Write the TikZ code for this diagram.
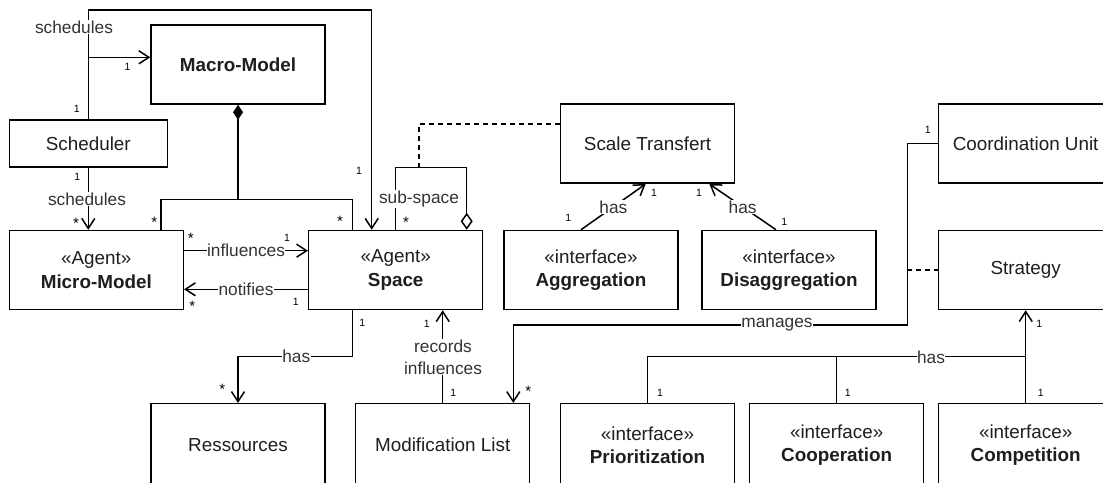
\documentclass[tikz,border=0pt]{standalone}
\usepackage{fontspec}
\setmainfont{Liberation Sans}
\usetikzlibrary{arrows.meta,calc}
\definecolor{txt}{HTML}{1E1E1E}
\definecolor{lbl}{HTML}{333333}
\begin{document}
\begin{tikzpicture}[x=1pt,y=-1pt,
  box/.style={draw=black,line width=1.5pt,minimum width=174pt,minimum height=79pt,inner sep=0pt,align=center,text=txt,font=\fontsize{18.85pt}{23.4pt}\selectfont},
  lowbox/.style={box,minimum height=83pt},
  lab/.style={fill=white,inner sep=0.5pt,text=lbl,font=\fontsize{17.3pt}{22pt}\selectfont,align=center},
  mult/.style={inner sep=0pt,text=black,font=\fontsize{10.5pt}{12pt}\selectfont},
  star/.style={inner sep=0pt,text=black,font=\fontsize{15pt}{16pt}\selectfont,yshift=-3pt},
  con/.style={line width=1.5pt,draw=black},
  arr/.style={con,-{Straight Barb[length=10pt,width=13pt]}},
  dsh/.style={con,dash pattern=on 5pt off 4pt}
]
\useasboundingbox (0,0) rectangle (1103,482);
\clip (0,0) rectangle (1103,482);
\fill[white] (0,0) rectangle (1103,482);

% boxes
\node[box] (macro) at (238,64.5) {\textbf{Macro-Model}};
\node[box,minimum width=158pt,minimum height=47pt] (sched) at (88.3,143.4) {Scheduler};
\node[box] (micro) at (96.3,270) {«Agent»\\\textbf{Micro-Model}};
\node[box] (space) at (395.7,270) {«Agent»\\\textbf{Space}};
\node[box] (scale) at (647.5,143.7) {Scale Transfert};
\node[box] (coord) at (1025.7,143.7) {Coordination Unit};
\node[box] (aggr) at (591,270) {«interface»\\\textbf{Aggregation}};
\node[box] (disagg) at (789,270) {«interface»\\\textbf{Disaggregation}};
\node[box] (strategy) at (1025.7,270) {Strategy};
\node[lowbox] (ress) at (238,445.2) {Ressources};
\node[lowbox] (modlist) at (442.7,445.2) {Modification List};
\node[lowbox] (prio) at (647.5,445.2) {«interface»\\\textbf{Prioritization}};
\node[lowbox] (coop) at (836.7,445.2) {«interface»\\\textbf{Cooperation}};
\node[lowbox] (comp) at (1025.7,445.2) {«interface»\\\textbf{Competition}};

% scheduler -> space (top route) and -> macro
\coordinate (t1) at (88.3,10);
\coordinate (t2) at (371.7,10);
\draw[arr] (sched.north) -- (t1) -- (t2) -- (t2 |- space.north);
\coordinate (j1) at (88.3,57.3);
\draw[arr] (j1) -- (j1 -| macro.west);
\node[lab] at (74,27) {schedules};

% scheduler -> micro
\draw[arr] (sched.south) -- (sched.south |- micro.north);
\node[lab] at (87,199) {schedules};

% composition
\coordinate (cm) at (238,199.3);
\coordinate (cl) at (161,199.3);
\coordinate (cr) at (352.3,199.3);
\draw[con,-{Diamond[length=15pt,width=10pt]}] (cm) -- (macro.south);
\draw[con] (cl |- micro.north) -- (cl) -- (cr) -- (cr |- space.north);

% influences / notifies
\draw[arr] ([yshift=19.3pt]micro.east) -- node[lab]{influences} ([yshift=19.3pt]space.west);
\draw[arr] ([yshift=-19.3pt]space.west) -- node[lab]{notifies} ([yshift=-19.3pt]micro.east);

% has ressources
\coordinate (h1) at (352.3,356.7);
\draw[arr] (h1 |- space.south) -- (h1) -- (h1 -| ress.north) -- (ress.north);
\node[lab] at (296.3,356.7) {has};

% records influences
\draw[arr] (modlist.north) -- (modlist.north |- space.south);
\node[lab] at (443,357) {records\\influences};

% sub-space
\coordinate (s1) at (395.7,167.7);
\coordinate (s2) at (466.7,167.7);
\draw[con,-{Diamond[open,length=17pt,width=12pt]}] (s1 |- space.north) -- (s1) -- (s2) -- (s2 |- space.north);
\node[lab] at (419,199) {sub-space};

% dashed to scale transfert
\coordinate (d1) at (419,167.7);
\coordinate (d2) at (419,124);
\draw[dsh] (d1) -- (d2) -- (d2 -| scale.west);

% aggregation / disaggregation
\draw[arr] ([xshift=-10pt]aggr.north) -- node[lab]{has} ([xshift=-1.8pt]scale.south);
\draw[arr] ([xshift=-13pt]disagg.north) -- node[lab]{has} ([xshift=61.8pt]scale.south);

% manages
\coordinate (m1) at (907.3,143.7);
\coordinate (m2) at (907.3,325);
\coordinate (m3) at (513.3,325);
\draw[arr] (coord.west |- m1) -- (m1) -- (m2) -- (m3) -- (m3 |- modlist.north);
\node[lab] at (777,325) {manages};

% dashed to strategy
\coordinate (m4) at (907.3,270);
\draw[dsh] (m4) -- (strategy.west);

% strategy has
\coordinate (hb) at (1025.7,356.7);
\draw[arr] (comp.north) -- (strategy.south);
\draw[con] (prio.north) -- (prio.north |- hb) -- (hb);
\draw[con] (coop.north) -- (coop.north |- hb);
\node[lab] at (931,357) {has};

% multiplicities
\node[mult] at (127.5,66.7) {1};
\node[mult] at (76.7,109.3) {1};
\node[mult] at (359,171) {1};
\node[mult] at (77.3,177.3) {1};
\node[star] at (76,220.7) {*};
\node[star] at (154.3,219.3) {*};
\node[star] at (340,218.3) {*};
\node[star] at (406,219) {*};
\node[star] at (190.7,235) {*};
\node[mult] at (287,237.5) {1};
\node[star] at (192.3,303.3) {*};
\node[mult] at (295.7,301.7) {1};
\node[mult] at (362.3,322.7) {1};
\node[star] at (222.3,386.7) {*};
\node[mult] at (426.7,324) {1};
\node[mult] at (453.3,393.3) {1};
\node[mult] at (568.3,218.3) {1};
\node[mult] at (654,193.3) {1};
\node[mult] at (699,193.3) {1};
\node[mult] at (784.3,221.7) {1};
\node[mult] at (927.7,129.7) {1};
\node[star] at (528.3,388.3) {*};
\node[mult] at (660,393.3) {1};
\node[mult] at (847.7,393.3) {1};
\node[mult] at (1040.7,393.3) {1};
\node[mult] at (1039.3,324) {1};
\end{tikzpicture}
\end{document}
